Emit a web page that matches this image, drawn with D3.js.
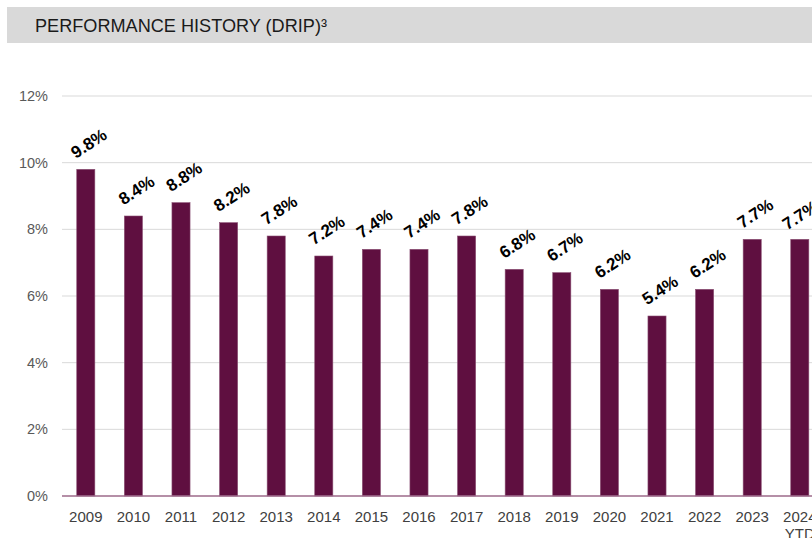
<!DOCTYPE html>
<html>
<head>
<meta charset="utf-8">
<script src="https://cdn.jsdelivr.net/npm/d3@7"></script>
<style>
  body { margin: 0; background: #fff; }
  svg { font-family: "Liberation Sans", Arial, sans-serif; display: block; }
</style>
</head>
<body>
<div id="chart"></div>
<script>
// chart values
var years = ['2009','2010','2011','2012','2013','2014','2015','2016','2017','2018','2019','2020','2021','2022','2023','2024'];
var returns = [9.8, 8.4, 8.8, 8.2, 7.8, 7.2, 7.4, 7.4, 7.8, 6.8, 6.7, 6.2, 5.4, 6.2, 7.7, 7.7];
var yTicks = [0, 2, 4, 6, 8, 10, 12];
var footnotes = ['','','','','','','','','','','','','','','','4'];

var width = 812, height = 538;
var margin = {top: 96, bottom: 42, left: 62};

var svg = d3.select('#chart').append('svg')
  .attr('width', width)
  .attr('height', height);

// title band
svg.append('rect')
  .attr('x', 7).attr('y', 7)
  .attr('width', width - 7).attr('height', 36)
  .attr('fill', '#d9d9d9');
svg.append('text')
  .attr('x', 35).attr('y', 32)
  .attr('font-size', 17.5)
  .attr('fill', '#1a1a1a')
  .attr('textLength', 292)
  .attr('lengthAdjust', 'spacingAndGlyphs')
  .text('PERFORMANCE HISTORY (DRIP)³');

var step = 47.6;
var x = d3.scaleBand()
  .domain(years)
  .range([margin.left, margin.left + years.length * step])
  .paddingInner(0.62)
  .paddingOuter(0.31);

var y = d3.scaleLinear()
  .domain([0, 12])
  .range([height - margin.bottom, margin.top]);

// gridlines
svg.append('g').selectAll('line')
  .data(yTicks.filter(function(d) { return d > 0; }))
  .enter().append('line')
  .attr('x1', margin.left).attr('x2', width)
  .attr('y1', function(d) { return y(d); })
  .attr('y2', function(d) { return y(d); })
  .attr('stroke', '#d9d9d9')
  .attr('stroke-width', 1);

// y tick labels
svg.append('g').selectAll('text')
  .data(yTicks)
  .enter().append('text')
  .attr('x', 48)
  .attr('y', function(d) { return y(d); })
  .attr('dy', '0.35em')
  .attr('text-anchor', 'end')
  .attr('font-size', 14.5)
  .attr('fill', '#595959')
  .text(function(d) { return d + '%'; });

// bars
svg.append('g').selectAll('rect')
  .data(returns)
  .enter().append('rect')
  .attr('x', function(d, i) { return x(years[i]); })
  .attr('y', function(d) { return y(d); })
  .attr('width', x.bandwidth())
  .attr('height', function(d) { return y(0) - y(d); })
  .attr('fill', '#5f0f40')
  .attr('stroke', '#8a4f72')
  .attr('stroke-width', 0.6);

// baseline
svg.append('line')
  .attr('x1', margin.left).attr('x2', width)
  .attr('y1', y(0)).attr('y2', y(0))
  .attr('stroke', '#9c6a8a')
  .attr('stroke-width', 1.5);

// rotated value labels
var labels = svg.append('g').selectAll('text')
  .data(returns)
  .enter().append('text')
  .attr('transform', function(d, i) {
    var cx = x(years[i]) + x.bandwidth() / 2 + 3;
    var cy = y(d) - 26;
    return 'translate(' + cx + ',' + cy + ') rotate(-33)';
  })
  .attr('text-anchor', 'middle')
  .attr('dy', '0.35em')
  .attr('font-size', 17)
  .attr('font-weight', 'bold')
  .attr('fill', '#000');
labels.append('tspan').text(function(d) { return d.toFixed(1) + '%'; });
labels.append('tspan')
  .attr('font-size', 11)
  .attr('dy', '-0.7em')
  .text(function(d, i) { return footnotes[i]; });

// x labels
var xl = svg.append('g').selectAll('text')
  .data(years)
  .enter().append('text')
  .attr('x', function(d) { return x(d) + x.bandwidth() / 2; })
  .attr('y', y(0) + 26)
  .attr('text-anchor', 'middle')
  .attr('font-size', 15)
  .attr('fill', '#404040');
xl.append('tspan').text(function(d) { return d; });
xl.filter(function(d) { return d === '2024'; })
  .append('tspan')
  .attr('x', function(d) { return x(d) + x.bandwidth() / 2; })
  .attr('dy', '1.1em')
  .text('YTD');
</script>
</body>
</html>
